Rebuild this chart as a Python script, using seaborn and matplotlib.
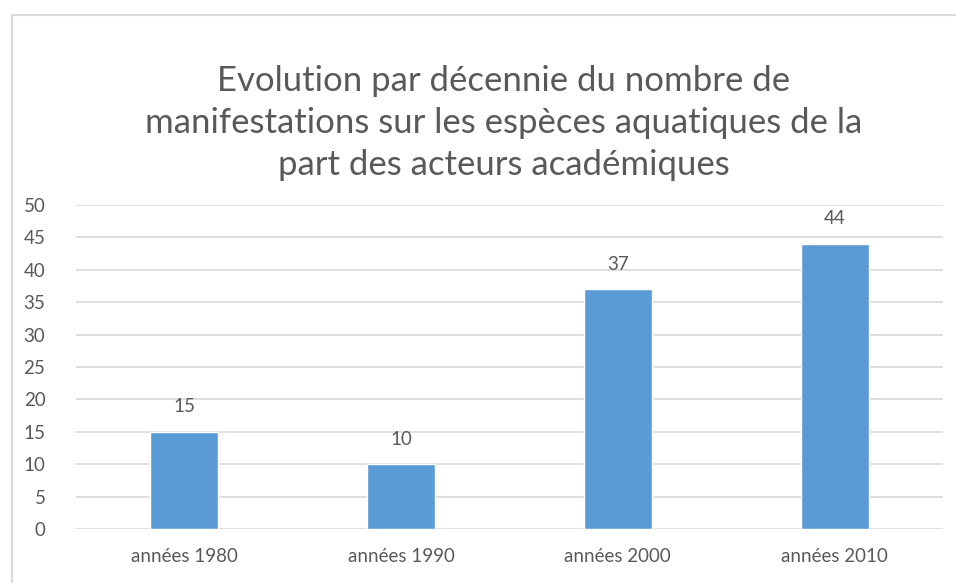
import matplotlib
matplotlib.use("Agg")
import matplotlib.pyplot as plt
import seaborn as sns
import pandas as pd
from matplotlib.patches import Rectangle

categories = ["années 1980", "années 1990", "années 2000", "années 2010"]
values = [15, 10, 37, 44]
y_ticks = [0, 5, 10, 15, 20, 25, 30, 35, 40, 45, 50]
title = ("Evolution par décennie du nombre de\n"
         "manifestations sur les espèces aquatiques de la\n"
         "part des acteurs académiques")

sns.set_theme(style="white")
plt.rcParams["font.family"] = ["Lato", "DejaVu Sans"]

TEXT = "#595959"
BAR = "#5B9BD5"
GRID = "#D9D9D9"

df = pd.DataFrame({"decennie": categories, "nombre": values})

fig = plt.figure(figsize=(9.56, 5.83), dpi=100)
fig.patch.set_facecolor("white")

# chart-area frame
fig.patches.append(Rectangle((12 / 956, -0.05), 1.2, 1 - 15 / 583 + 0.05,
                             transform=fig.transFigure, fill=False,
                             edgecolor="#D9D9D9", linewidth=1.5))

ax = fig.add_axes([76 / 956, 1 - 529 / 583, (943 - 76) / 956, (529 - 205) / 583])
sns.barplot(data=df, x="decennie", y="nombre", color=BAR, width=0.314,
            saturation=1, ax=ax, zorder=3)

ax.set_ylim(0, 50)
ax.set_yticks(y_ticks)
ax.set_xlim(-0.5, 3.5)
ax.grid(axis="y", color=GRID, linewidth=1.2, zorder=0)
ax.set_axisbelow(True)
for s in ax.spines.values():
    s.set_visible(False)
ax.set_xlabel("")
ax.set_ylabel("")
ax.tick_params(axis="both", length=0, labelsize=13.5, labelcolor=TEXT)
ax.tick_params(axis="y", pad=22)
ax.tick_params(axis="x", pad=14)

for cont in ax.containers:
    ax.bar_label(cont, labels=[str(v) for v in values], padding=12,
                 fontsize=13.5, color=TEXT)

fig.text(504 / 956, 1 - 123 / 583, title, ha="center", va="center",
         fontsize=25, color=TEXT, linespacing=1.4)

fig.savefig("out.png", dpi=100)
